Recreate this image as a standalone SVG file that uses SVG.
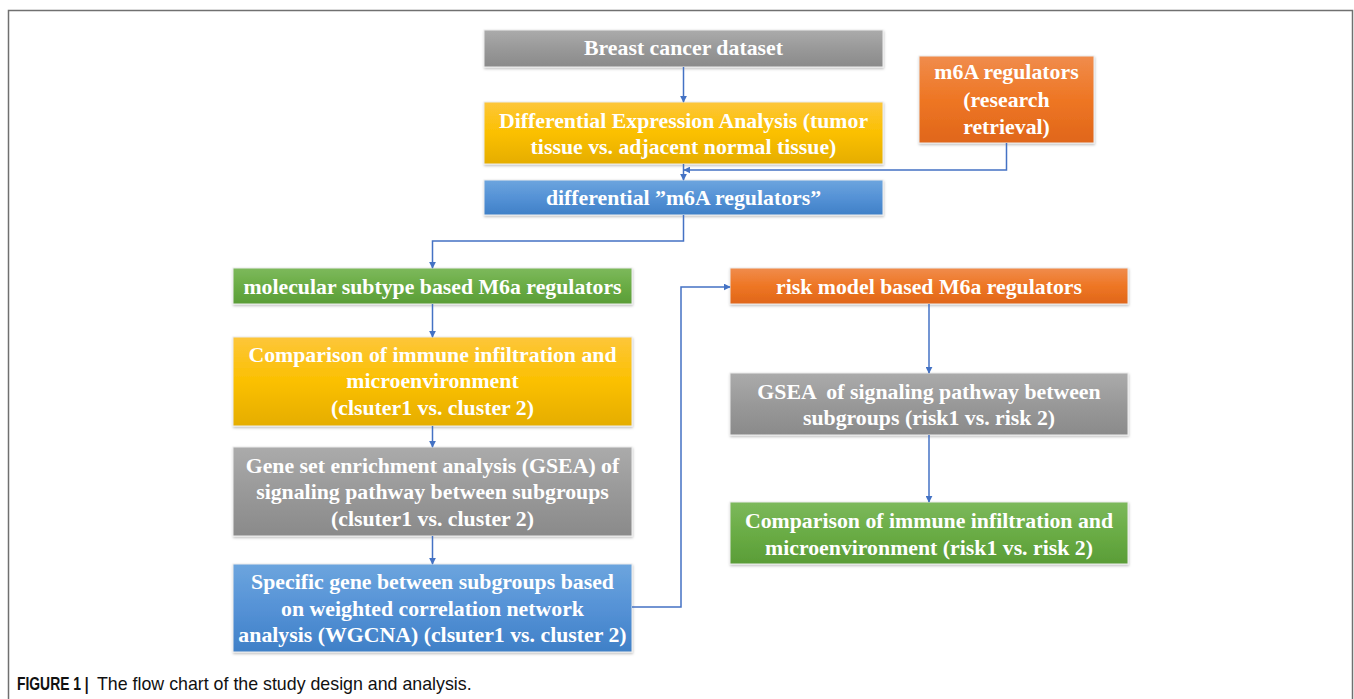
<svg xmlns="http://www.w3.org/2000/svg" width="1354" height="699" viewBox="0 0 1354 699">
<defs>
<linearGradient id="gGray" x1="0" y1="0" x2="0" y2="1"><stop offset="0" stop-color="#ababab"/><stop offset="0.5" stop-color="#999999"/><stop offset="1" stop-color="#8a8a8a"/></linearGradient>
<linearGradient id="gYellow" x1="0" y1="0" x2="0" y2="1"><stop offset="0" stop-color="#fdc63a"/><stop offset="0.5" stop-color="#fbc000"/><stop offset="1" stop-color="#e5ad00"/></linearGradient>
<linearGradient id="gOrange" x1="0" y1="0" x2="0" y2="1"><stop offset="0" stop-color="#f08c4c"/><stop offset="0.5" stop-color="#ee7624"/><stop offset="1" stop-color="#e0661a"/></linearGradient>
<linearGradient id="gBlue" x1="0" y1="0" x2="0" y2="1"><stop offset="0" stop-color="#6ca5de"/><stop offset="0.5" stop-color="#5592d6"/><stop offset="1" stop-color="#3f80c7"/></linearGradient>
<linearGradient id="gGreen" x1="0" y1="0" x2="0" y2="1"><stop offset="0" stop-color="#7db95c"/><stop offset="0.5" stop-color="#6aac45"/><stop offset="1" stop-color="#5a9d37"/></linearGradient>
<filter id="sh" x="-5%" y="-10%" width="110%" height="130%"><feDropShadow dx="0.5" dy="1.5" stdDeviation="1.2" flood-color="#000000" flood-opacity="0.25"/></filter>
<marker id="arr" viewBox="0 0 10 10" refX="9" refY="5" markerWidth="7" markerHeight="7" markerUnits="userSpaceOnUse" orient="auto"><path d="M0,0 L10,5 L0,10 z" fill="#4472c4"/></marker>
</defs>
<style>
.box{stroke:#ececec;stroke-width:1;filter:url(#sh)}
.t{font-family:"Liberation Serif","Times New Roman",serif;font-weight:bold;font-size:21.8px;fill:#ffffff;text-anchor:middle}
.c{fill:none;stroke:#4472c4;stroke-width:1.5;marker-end:url(#arr)}
.frame{fill:none;stroke:#707070;stroke-width:1.5}
.cap{font-family:"Liberation Sans",Arial,sans-serif;font-size:17.8px;fill:#111111}
</style>
<rect width="1354" height="699" fill="#ffffff"/>
<path class="frame" d="M8.5,699 V10.5 H1352.5 V699"/>

<g id="n1"><rect class="box" x="484" y="30" width="399" height="37" fill="url(#gGray)"/><text class="t" x="683.5" y="55">Breast cancer dataset</text></g>
<g id="n2"><rect class="box" x="484" y="102" width="399" height="62" fill="url(#gYellow)"/><text class="t" x="683.5" y="128">Differential Expression Analysis (tumor</text><text class="t" x="683.5" y="154">tissue vs. adjacent normal tissue)</text></g>
<g id="n3"><rect class="box" x="919" y="56" width="175" height="87" fill="url(#gOrange)"/><text class="t" x="1006.5" y="79">m6A regulators</text><text class="t" x="1006.5" y="107">(research</text><text class="t" x="1006.5" y="134">retrieval)</text></g>
<g id="n4"><rect class="box" x="484" y="180" width="399" height="35" fill="url(#gBlue)"/><text class="t" x="683.5" y="205">differential ”m6A regulators”</text></g>
<g id="n5"><rect class="box" x="233" y="268" width="399" height="36" fill="url(#gGreen)"/><text class="t" x="432.5" y="294">molecular subtype based M6a regulators</text></g>
<g id="n6"><rect class="box" x="233" y="337" width="399" height="89" fill="url(#gYellow)"/><text class="t" x="432.5" y="362">Comparison of immune infiltration and</text><text class="t" x="432.5" y="388">microenvironment</text><text class="t" x="432.5" y="415">(clsuter1 vs. cluster 2)</text></g>
<g id="n7"><rect class="box" x="233" y="447" width="399" height="89" fill="url(#gGray)"/><text class="t" x="432.5" y="473">Gene set enrichment analysis (GSEA) of</text><text class="t" x="432.5" y="499">signaling pathway between subgroups</text><text class="t" x="432.5" y="526">(clsuter1 vs. cluster 2)</text></g>
<g id="n8"><rect class="box" x="233" y="564" width="399" height="88" fill="url(#gBlue)"/><text class="t" x="432.5" y="589">Specific gene between subgroups based</text><text class="t" x="432.5" y="616">on weighted correlation network</text><text class="t" x="432.5" y="642">analysis (WGCNA) (clsuter1 vs. cluster 2)</text></g>
<g id="n9"><rect class="box" x="730" y="268" width="398" height="36" fill="url(#gOrange)"/><text class="t" x="929" y="294">risk model based M6a regulators</text></g>
<g id="n10"><rect class="box" x="730" y="373" width="398" height="62" fill="url(#gGray)"/><text class="t" x="929" y="399" xml:space="preserve">GSEA  of signaling pathway between</text><text class="t" x="929" y="425">subgroups (risk1 vs. risk 2)</text></g>
<g id="n11"><rect class="box" x="730" y="502" width="398" height="62" fill="url(#gGreen)"/><text class="t" x="929" y="528">Comparison of immune infiltration and</text><text class="t" x="929" y="555">microenvironment (risk1 vs. risk 2)</text></g>

<g id="connectors">
<path class="c" d="M683.5,67 V102"/>
<path class="c" d="M683.5,164 V180"/>
<path class="c" d="M1006.5,143 V170 H684"/>
<path class="c" d="M683.5,215 V241 H432.5 V268"/>
<path class="c" d="M432.5,304 V337"/>
<path class="c" d="M432.5,426 V447"/>
<path class="c" d="M432.5,536 V564"/>
<path class="c" d="M632,607 H681 V287 H730"/>
<path class="c" d="M929,304 V373"/>
<path class="c" d="M929,435 V502"/>
</g>

<text class="cap" transform="translate(17,690) scale(0.78,1)" font-weight="bold">FIGURE 1 |</text>
<text class="cap" x="97" y="690">The flow chart of the study design and analysis.</text>
</svg>
